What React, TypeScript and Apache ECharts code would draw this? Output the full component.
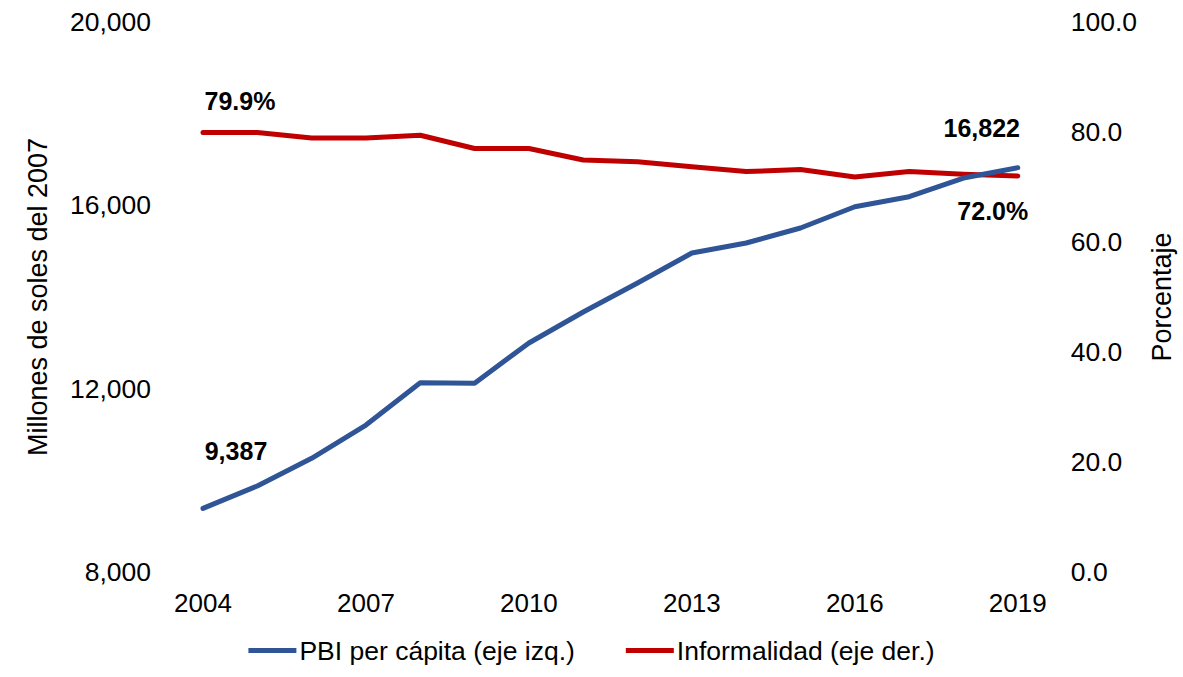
import React, { useEffect, useRef } from "react";
import * as echarts from "echarts";

const years = ["2004","2005","2006","2007","2008","2009","2010","2011","2012","2013","2014","2015","2016","2017","2018","2019"];
const pbiPerCapita = [9387, 9876, 10481, 11207, 12130, 12120, 12997, 13673, 14305, 14960, 15178, 15505, 15970, 16188, 16596, 16822];
const informalidad = [79.9, 79.9, 78.9, 78.9, 79.4, 77.0, 77.0, 74.9, 74.6, 73.7, 72.8, 73.2, 71.8, 72.8, 72.3, 72.0];
const leftTicks = { min: 8000, max: 20000, interval: 4000 };
const rightTicks = { min: 0, max: 100, interval: 20 };
const seriesNames = ["PBI per cápita (eje izq.)", "Informalidad (eje der.)"];

const FONT = "'Liberation Sans', Arial, sans-serif";

export default function App() {
  const ref = useRef<HTMLDivElement>(null);
  useEffect(() => {
    if (!ref.current) return;
    const chart = echarts.init(ref.current, null, { renderer: "svg" });
    const lastIdx = years.length - 1;
    const labelStyle = { show: true, position: "inside", color: "#000", fontFamily: FONT, fontSize: 25, fontWeight: "bold" };
    const blueData = pbiPerCapita.map((v, i) => {
      if (i === 0) return { value: v, label: { ...labelStyle, offset: [33, -57], formatter: (p: any) => Number(p.value).toLocaleString("en-US") } };
      if (i === lastIdx) return { value: v, label: { ...labelStyle, offset: [-36, -40], formatter: (p: any) => Number(p.value).toLocaleString("en-US") } };
      return v;
    });
    const redData = informalidad.map((v, i) => {
      if (i === 0) return { value: v, label: { ...labelStyle, offset: [37, -32], formatter: (p: any) => Number(p.value).toFixed(1) + "%" } };
      if (i === lastIdx) return { value: v, label: { ...labelStyle, offset: [-25, 35], formatter: (p: any) => Number(p.value).toFixed(1) + "%" } };
      return v;
    });
    chart.setOption({
      animation: false,
      backgroundColor: "#fff",
      textStyle: { fontFamily: FONT },
      grid: { left: 203, right: 163, top: 22, bottom: 105, containLabel: false },
      legend: {
        data: seriesNames,
        bottom: 8,
        left: "center",
        icon: "rect",
        itemWidth: 48,
        itemHeight: 5,
        itemGap: 51,
        textStyle: { fontFamily: FONT, fontSize: 26.5, color: "#000", padding: [0, 0, 0, -2] },
      },
      xAxis: {
        type: "category",
        data: years,
        boundaryGap: false,
        axisLine: { show: false },
        axisTick: { show: false },
        axisLabel: { interval: 2, color: "#000", fontSize: 26, fontFamily: FONT, margin: 18 },
        splitLine: { show: false },
      },
      yAxis: [
        {
          type: "value",
          min: leftTicks.min,
          max: leftTicks.max,
          interval: leftTicks.interval,
          name: "Millones de soles del 2007",
          nameLocation: "middle",
          nameRotate: 90,
          nameGap: 152,
          nameTextStyle: { color: "#000", fontSize: 27, fontFamily: FONT },
          axisLine: { show: false },
          axisTick: { show: false },
          splitLine: { show: false },
          axisLabel: { color: "#000", fontSize: 26.5, fontFamily: FONT, margin: 52, formatter: (v: number) => v.toLocaleString("en-US") },
        },
        {
          type: "value",
          min: rightTicks.min,
          max: rightTicks.max,
          interval: rightTicks.interval,
          name: "Porcentaje",
          nameLocation: "middle",
          nameRotate: 90,
          nameGap: 122,
          nameTextStyle: { color: "#000", fontSize: 27, fontFamily: FONT, padding: [0, 0, 0, 0] },
          axisLine: { show: false },
          axisTick: { show: false },
          splitLine: { show: false },
          axisLabel: { color: "#000", fontSize: 26.5, fontFamily: FONT, margin: 53, formatter: (v: number) => v.toFixed(1) },
        },
      ],
      series: [
        {
          name: seriesNames[0],
          type: "line",
          yAxisIndex: 0,
          data: blueData,
          symbol: "circle",
          symbolSize: 1,
          showSymbol: true,
          itemStyle: { color: "#2F5597" },
          lineStyle: { color: "#2F5597", width: 5, cap: "round", join: "round" },
          z: 3,
        },
        {
          name: seriesNames[1],
          type: "line",
          yAxisIndex: 1,
          data: redData,
          symbol: "circle",
          symbolSize: 1,
          showSymbol: true,
          itemStyle: { color: "#C00000" },
          lineStyle: { color: "#C00000", width: 5, cap: "round", join: "round" },
          z: 2,
        },
      ],
    });
    return () => chart.dispose();
  }, []);
  return <div ref={ref} style={{ position: "fixed", left: 0, top: 0, width: 1183, height: 677 }} />;
}
